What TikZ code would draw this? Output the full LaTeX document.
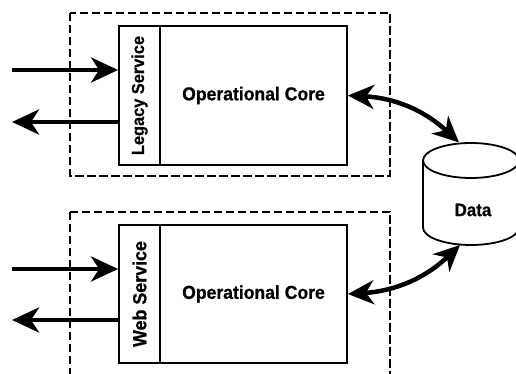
\documentclass[tikz,border=0pt]{standalone}
\usepackage{fontspec}
\newfontfamily\labfont[FakeStretch=0.94,FakeBold=0.8]{Liberation Sans}
\usetikzlibrary{arrows.meta}
\tikzset{
  group/.style={draw, line width=2.2pt, dash pattern=on 8.5pt off 3.5pt},
  box/.style={draw, line width=1.8pt, inner sep=0pt},
  lab/.style={font=\labfont\bfseries, inner sep=0pt},
  arr/.style={line width=4.5pt, -{Stealth[length=27pt,width=25pt,inset=8pt]}},
  darr/.style={line width=4.5pt, {Stealth[length=26pt,width=24pt,inset=8pt]}-{Stealth[length=26pt,width=24pt,inset=8pt]}},
}
\begin{document}
\begin{tikzpicture}[x=1pt,y=1pt]
\useasboundingbox (0,0) rectangle (516,374);
\clip (0,0) rectangle (516,374);

% dashed group frames
\draw[group] (70,361) rectangle (390,198);
\draw[group] (70,162) rectangle (390,-20);

% upper system
\node[box, minimum width=41pt, minimum height=139pt] (ls) at (139.5,278.5) {};
\node[lab, rotate=90, font=\labfont\bfseries\fontsize{17.4}{20}\selectfont] at (ls) {Legacy Service};
\node[box, minimum width=187pt, minimum height=139pt, font=\labfont\bfseries\fontsize{18.7}{22}\selectfont] (c1) at (253.5,278.5) {Operational Core};

% lower system
\node[box, minimum width=41pt, minimum height=138pt] (ws) at (139.5,80) {};
\node[lab, rotate=90, font=\labfont\bfseries\fontsize{19}{22}\selectfont] at (ws) {Web Service};
\node[box, minimum width=187pt, minimum height=138pt, font=\labfont\bfseries\fontsize{18.7}{22}\selectfont] (c2) at (253.5,80) {Operational Core};

% data store cylinder
\draw[line width=1.8pt, fill=white] (423,213.5) -- (423,146.5) arc[start angle=180, end angle=360, x radius=48, y radius=17.5] -- (519,213.5);
\draw[line width=1.8pt] (471,213.5) ellipse[x radius=48, y radius=17.5];
\node[lab, font=\labfont\bfseries\fontsize{18}{21}\selectfont] (data) at (473,164) {Data};
\coordinate (dtop) at (459,231.5);
\coordinate (dbot) at (460,129);

% request / response arrows
\coordinate (in1) at (12,304);
\coordinate (out1) at (12,252);
\coordinate (in2) at (12,105);
\coordinate (out2) at (12,54);
\draw[arr] (in1) -- (ls.west |- in1);
\draw[arr] (ls.west |- out1) -- (out1);
\draw[arr] (in2) -- (ws.west |- in2);
\draw[arr] (ws.west |- out2) -- (out2);

% data access
\draw[darr] (c1.east) to[bend left=20] (dtop);
\draw[darr] (c2.east) to[bend right=20] (dbot);
\end{tikzpicture}
\end{document}
